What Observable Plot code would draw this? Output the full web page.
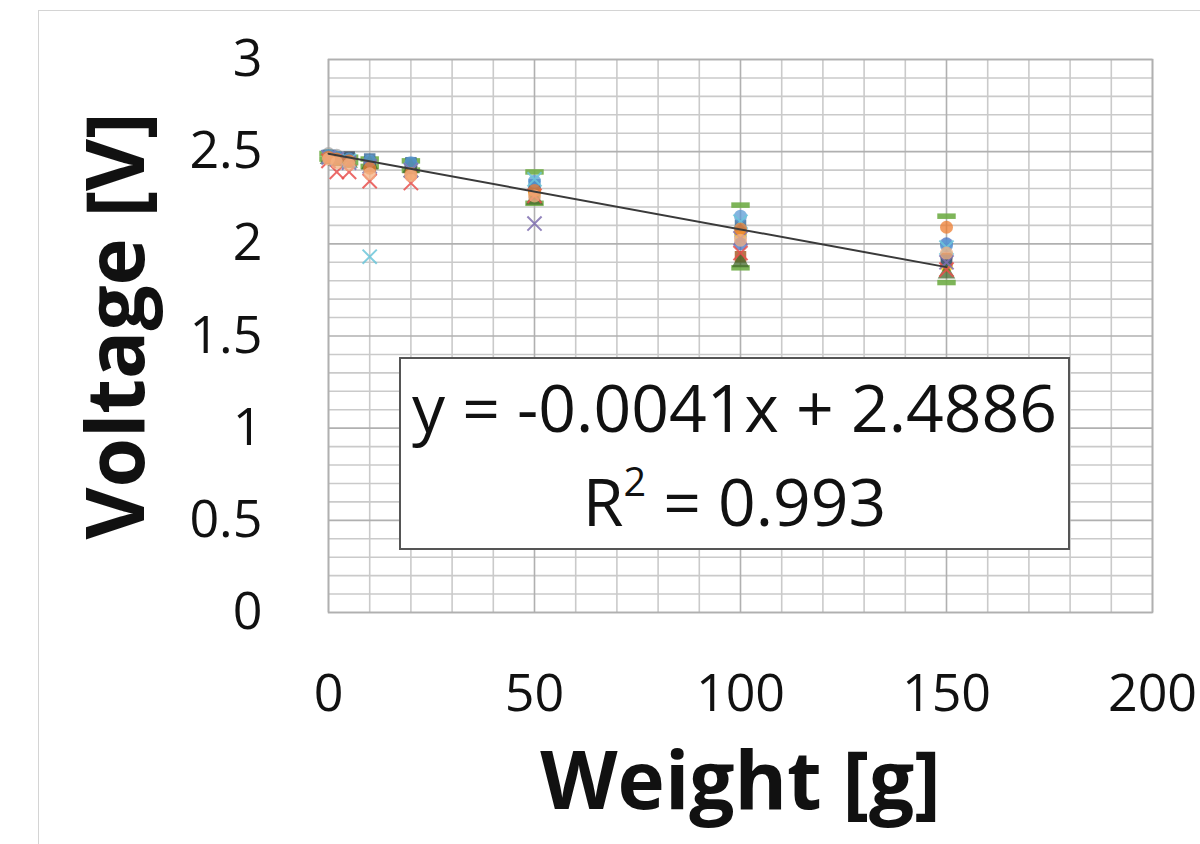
<!DOCTYPE html>
<html>
<head>
<meta charset="utf-8">
<script src="https://cdn.jsdelivr.net/npm/d3@7"></script>
<script src="https://cdn.jsdelivr.net/npm/@observablehq/plot@0.6"></script>
<style>
  html, body { margin: 0; padding: 0; background: #fff; }
  #wrap { position: relative; width: 1200px; height: 844px; overflow: hidden; font-family: "Open Sans", sans-serif; }
  #outer { position: absolute; left: 38px; top: 10px; width: 1300px; height: 1000px; border-left: 1.5px solid #d4d4d4; border-top: 1.5px solid #d4d4d4; }
  #eq { position: absolute; left: 399px; top: 357px; width: 671px; height: 193px; box-sizing: border-box; border: 2px solid #555; background: #fff; text-align: center; color: #111; font-size: 66px; line-height: 94px; padding-top: 0px; }
  #chart { position: absolute; left: 0; top: 0; }
</style>
</head>
<body>
<div id="wrap">
  <div id="outer"></div>
  <div id="chart"></div>
  <div id="eq"><div>y = -0.0041x + 2.4886</div><div>R<sup style="font-size:0.6em;vertical-align:0;position:relative;top:-0.75em">2</sup> = 0.993</div></div>
</div>
<script>
// Weights [g]
const weights = [0, 2, 5, 10, 20, 50, 100, 150];

// Measured voltages [V], one array per trial
const trial1  = [2.49, 2.48, 2.47, 2.46, 2.45, 2.39, 2.21, 2.15];
const trial2  = [2.46, 2.45, 2.44, 2.42, 2.40, 2.22, 1.87, 1.79];
const trial3  = [2.49, 2.48, 2.46, 2.43, 2.41, 2.31, 2.04, 1.93];
const trial4  = [2.48, 2.47, 2.46, 2.44, 2.42, 2.28, 2.06, 1.88];
const trial5  = [2.47, 2.47, 2.45, 2.43, 2.42, 2.30, 2.00, 2.00];
const trial6  = [2.47, 2.46, 2.47, 2.42, 2.41, 2.27, 1.93, 1.92];
const trial7  = [2.48, 2.47, 2.47, 2.46, 2.44, 2.32, 2.10, 1.91];
const trial8  = [2.46, 2.45, 2.44, 2.43, 2.41, 2.24, 1.90, 1.84];
const trial9  = [2.48, 2.47, 2.46, 2.45, 2.44, 2.34, 2.15, 1.99];
const trial10 = [2.45, 2.39, 2.39, 2.34, 2.33, 2.26, 1.95, 1.86];
const trial11 = [2.47, 2.46, 2.45, 1.93, 2.40, 2.35, 2.12, 1.98];
const trial12 = [2.47, 2.46, 2.44, 2.42, 2.40, 2.11, 2.03, 1.90];
const trial13 = [2.47, 2.46, 2.45, 2.41, 2.38, 2.29, 2.08, 2.09];
const trial14 = [2.46, 2.44, 2.43, 2.38, 2.37, 2.26, 2.02, 1.95];

const trialNames   = ["1","2","3","4","5","6","7","8","9","10","11","12","13","14"];
const trialValues  = [trial1, trial2, trial3, trial4, trial5, trial6, trial7, trial8, trial9, trial10, trial11, trial12, trial13, trial14];
const trialColors  = ["#70AD47","#70AD47","#A5A5A5","#FFC000","#4472C4","#9E480E","#255E91","#43682B","#5B9BD5","#E8504D","#6CC6D9","#7F6FB0","#ED7D31","#F4B183"];
const trialMarkers = ["dash","dash","circle","circle","circle","square","square","triangle","circle","times","times","times","circle","circle"];

// Linear trendline (Excel)
const slope = -0.0041;
const intercept = 2.4886;

const xTicks = [0, 50, 100, 150, 200];
const yTicks = [0, 0.5, 1, 1.5, 2, 2.5, 3];
const xGrid = d3.range(0, 201, 10);
const yGrid = d3.range(0, 30.5, 1).map(d => d / 10);

const dashSymbol = {
  draw(ctx, size) {
    const w = Math.sqrt(size) * 0.8;
    const h = w * 0.3;
    ctx.moveTo(-w, -h); ctx.lineTo(w, -h); ctx.lineTo(w, h); ctx.lineTo(-w, h); ctx.closePath();
  }
};

const marks = [
  Plot.gridX(xGrid.filter(d => d % 50 !== 0), {stroke: "#cacaca", strokeOpacity: 1, strokeWidth: 1.6}),
  Plot.gridY(yGrid.filter(d => Math.round(d * 10) % 5 !== 0), {stroke: "#cacaca", strokeOpacity: 1, strokeWidth: 1.6}),
  Plot.gridX(xGrid.filter(d => d % 50 === 0), {stroke: "#b0b0b0", strokeOpacity: 1, strokeWidth: 1.6}),
  Plot.gridY(yTicks, {stroke: "#b0b0b0", strokeOpacity: 1, strokeWidth: 1.6}),
  Plot.frame({stroke: "#b0b0b0", strokeWidth: 1.6})
];

trialValues.forEach((vals, i) => {
  const data = weights.map((w, j) => ({weight: w, voltage: vals[j], trial: trialNames[i]})).filter(d => d.voltage != null);
  const m = trialMarkers[i];
  const c = trialColors[i];
  if (m === "times") {
    marks.push(Plot.dot(data, {x: "weight", y: "voltage", symbol: "times", r: 6.5, stroke: c, strokeWidth: 2, strokeOpacity: 0.85}));
  } else if (m === "dash") {
    marks.push(Plot.dot(data, {x: "weight", y: "voltage", symbol: dashSymbol, r: 6.5, fill: c, fillOpacity: 0.9, stroke: "none"}));
  } else {
    marks.push(Plot.dot(data, {x: "weight", y: "voltage", symbol: m, r: 6.5, fill: c, fillOpacity: 0.75, stroke: "none"}));
  }
});

const trendX = [d3.min(weights), d3.max(weights)];
marks.push(Plot.line(trendX.map(x => ({x, y: intercept + slope * x})), {x: "x", y: "y", stroke: "#3a3a3a", strokeWidth: 2}));

marks.push(Plot.axisX({ticks: xTicks, tickSize: 0, tickPadding: 62, fontSize: 52, label: null, tickFormat: d => String(d)}));
marks.push(Plot.axisY({ticks: yTicks, tickSize: 0, tickPadding: 66, fontSize: 52, label: null, tickFormat: d => String(d)}));
marks.push(Plot.text(["Voltage [V]"], {frameAnchor: "left", textAnchor: "middle", dx: -210, dy: -10, rotate: -90, text: d => d, fontSize: 80, fontWeight: "bold", fill: "#111"}));
marks.push(Plot.text(["Weight [g]"], {frameAnchor: "bottom", textAnchor: "middle", dy: 196, text: d => d, fontSize: 80, fontWeight: "bold", fill: "#111"}));

const chart = Plot.plot({
  width: 1200,
  height: 844,
  marginLeft: 328,
  marginRight: 48,
  marginTop: 59,
  marginBottom: 232,
  x: {domain: [0, 200]},
  y: {domain: [0, 3]},
  style: {fontFamily: "'Open Sans', sans-serif", color: "#111", background: "transparent", overflow: "visible"},
  marks
});
document.getElementById("chart").appendChild(chart);
</script>
</body>
</html>
